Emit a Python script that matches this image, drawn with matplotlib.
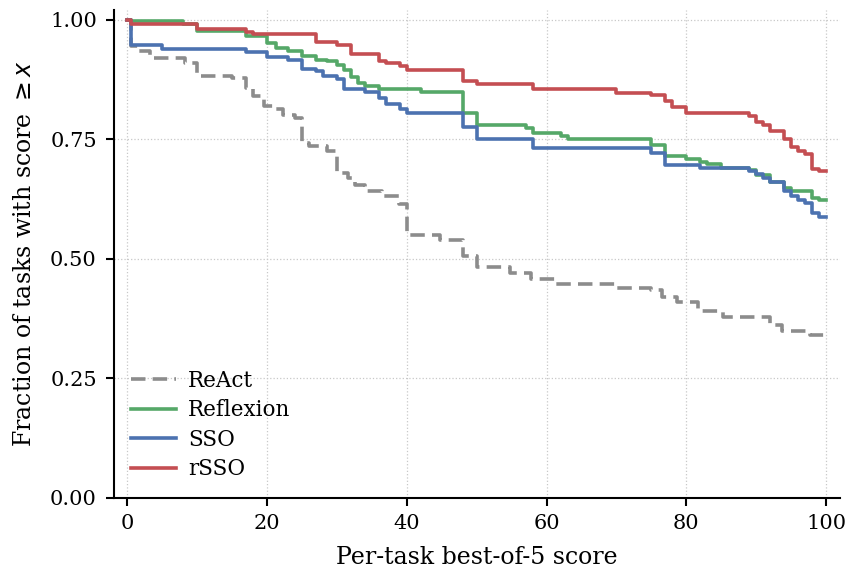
import matplotlib
matplotlib.use('Agg')
from matplotlib import pyplot as plt
import matplotlib.ticker as mticker

plt.rcParams['font.family'] = ['DejaVu Serif']
plt.rcParams['mathtext.fontset'] = 'dejavusans'

# step curves: fraction of tasks with score >= x
react_x = [0, 0.5, 1.7, 3.2, 8.2, 10, 15, 17, 18, 19.6, 21, 22.2, 24, 25, 26, 28.5, 30, 31.5,
           32.5, 34, 36.5, 38.8, 40, 44.7, 48, 50, 54.7, 57.8, 61.4, 69.8, 75, 76.5, 78.6,
           81.7, 85.3, 92, 93.7, 97.7, 100]
react_y = [1.0, 0.944, 0.934, 0.920, 0.909, 0.883, 0.877, 0.857, 0.840, 0.819, 0.812, 0.801,
           0.794, 0.742, 0.735, 0.725, 0.679, 0.668, 0.655, 0.641, 0.630, 0.615, 0.550, 0.538,
           0.506, 0.483, 0.470, 0.458, 0.446, 0.439, 0.434, 0.420, 0.409, 0.390, 0.378, 0.362,
           0.348, 0.341, 0.341]

reflexion_x = [0, 0.5, 8, 10, 17, 20, 21.3, 23, 25, 27, 28.5, 30, 31, 32, 33, 34, 36, 42, 48,
               50, 57, 58, 62, 63, 75, 77, 80, 82, 83, 85, 89, 90, 92, 94, 95, 96, 98, 99, 100]
reflexion_y = [1.0, 0.997, 0.990, 0.976, 0.965, 0.951, 0.941, 0.934, 0.923, 0.916, 0.913,
               0.906, 0.895, 0.879, 0.868, 0.861, 0.854, 0.848, 0.805, 0.780, 0.773, 0.763,
               0.757, 0.750, 0.738, 0.714, 0.709, 0.702, 0.697, 0.690, 0.685, 0.674, 0.660,
               0.648, 0.642, 0.641, 0.627, 0.622, 0.622]

sso_x = [0, 0.5, 5, 17, 20, 23, 25, 27, 28, 30, 31, 34, 36, 37, 39, 40, 48, 50, 58, 75, 77,
         82, 89, 90, 91, 92, 94, 95, 96, 97, 98, 99, 100]
sso_y = [1.0, 0.946, 0.938, 0.932, 0.922, 0.915, 0.897, 0.892, 0.883, 0.876, 0.855, 0.848,
         0.836, 0.824, 0.812, 0.805, 0.775, 0.750, 0.731, 0.720, 0.695, 0.690, 0.683, 0.678,
         0.669, 0.660, 0.641, 0.630, 0.623, 0.617, 0.596, 0.587, 0.587]

rsso_x = [0, 0.5, 10, 17, 18, 27, 30, 32, 36, 37, 39, 40, 48, 50, 58, 70, 75, 77, 78, 80, 89,
          90, 91, 92, 94, 95, 96, 97, 98, 99, 100]
rsso_y = [1.0, 0.990, 0.981, 0.974, 0.969, 0.953, 0.946, 0.928, 0.914, 0.909, 0.902, 0.895,
          0.872, 0.865, 0.854, 0.847, 0.842, 0.829, 0.817, 0.805, 0.798, 0.786, 0.779, 0.768,
          0.750, 0.733, 0.726, 0.719, 0.688, 0.683, 0.683]

fig = plt.figure(figsize=(8.49, 5.69), dpi=100)
ax = fig.add_axes([0.1337, 0.1253, 0.9894 - 0.1337, 0.9824 - 0.1253])

ax.step(react_x, react_y, where='post', color='#8c8c8c', lw=2.6, ls='--', dashes=(4, 2),
        label='ReAct')
ax.step(reflexion_x, reflexion_y, where='post', color='#55A868', lw=2.6, label='Reflexion')
ax.step(sso_x, sso_y, where='post', color='#4C72B0', lw=2.6, label='SSO')
ax.step(rsso_x, rsso_y, where='post', color='#C44E52', lw=2.6, label='rSSO')

ax.set_xlim(-2, 102)
ax.set_ylim(0, 1.02)
ax.set_xticks([0, 20, 40, 60, 80, 100])
ax.set_yticks([0, 0.25, 0.5, 0.75, 1.0])
ax.yaxis.set_major_formatter(mticker.FormatStrFormatter('%.2f'))
ax.tick_params(labelsize=15, width=1.5, length=6, pad=6)
ax.grid(True, linestyle=':', color='#c8c8c8', linewidth=0.9)

for s in ['top', 'right']:
    ax.spines[s].set_visible(False)
for s in ['left', 'bottom']:
    ax.spines[s].set_linewidth(1.5)

ax.set_xlabel('Per-task best-of-5 score', fontsize=17, labelpad=9)
ax.set_ylabel(r'Fraction of tasks with score $\geq x$', fontsize=17, labelpad=10)

ax.legend(loc='lower left', frameon=False, fontsize=15.5, handlelength=2.1,
          handletextpad=0.55, labelspacing=0.35, borderaxespad=0.4)

plt.savefig('out.png', dpi=100)
